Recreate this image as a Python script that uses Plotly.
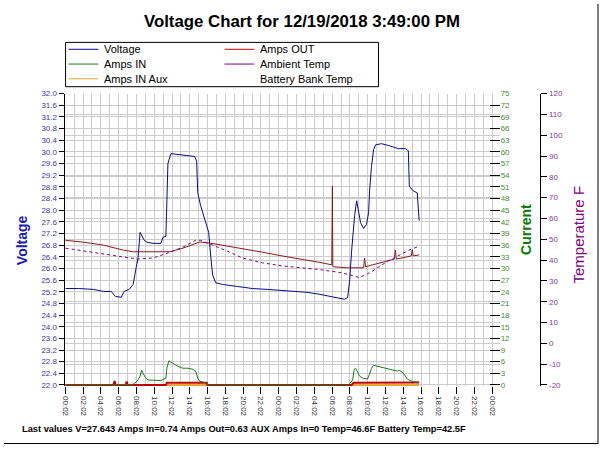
import plotly.graph_objects as go

W, H = 600, 449

# ---------------- data ----------------
x_tick_hours = [0, 2, 4, 6, 8, 10, 12, 14, 16, 18, 20, 22, 24, 26, 28, 30, 32, 34, 36, 38, 40, 42, 44, 46, 48]
x_tick_labels = ["00:02", "02:02", "04:02", "06:02", "08:02", "10:02", "12:02", "14:02", "16:02", "18:02",
                 "20:02", "22:02", "00:02", "02:02", "04:02", "06:02", "08:02", "10:02", "12:02", "14:02",
                 "16:02", "18:02", "20:02", "22:02", "00:02"]
x_minor_hours = [1, 3, 5, 7, 9, 11, 13, 15, 17, 19, 21, 23, 25, 27, 29, 31, 33, 35, 37, 39, 41, 43, 45, 47]

volt_t = [0.03, 1.49, 3.16, 4.28, 5.17, 5.62, 6.29, 6.62, 7.18, 7.63, 7.96, 8.18, 8.41, 8.63, 8.86, 9.19,
          9.86, 10.75, 10.98, 11.31, 11.42, 11.54, 11.87, 12.65, 13.77, 14.55, 14.77, 14.89, 15.22, 15.67,
          16.12, 16.34, 16.56, 16.90, 17.68, 19.36, 21.03, 22.71, 24.38, 26.06, 27.17, 28.62, 29.96, 30.86,
          31.42, 31.75, 31.98, 32.20, 32.53, 32.76, 32.98, 33.20, 33.54, 33.87, 34.10, 34.21, 34.43, 34.66,
          34.88, 35.55, 36.44, 37.45, 38.23, 38.57, 38.68, 39.12, 39.57, 39.79]
volt_v = [25.31, 25.31, 25.28, 25.21, 25.21, 25.04, 25.01, 25.21, 25.28, 25.45, 26.02, 26.36, 27.24, 27.10,
          26.97, 26.90, 26.86, 26.86, 27.07, 27.10, 28.32, 29.60, 29.94, 29.91, 29.87, 29.84, 29.67, 28.59,
          28.15, 27.71, 27.24, 26.46, 25.78, 25.51, 25.45, 25.38, 25.31, 25.28, 25.24, 25.21, 25.18, 25.11,
          25.04, 24.97, 24.94, 25.01, 25.61, 26.63, 27.81, 28.32, 27.91, 27.57, 27.37, 27.51, 27.91, 28.66,
          29.50, 30.07, 30.24, 30.28, 30.21, 30.11, 30.11, 30.04, 28.82, 28.66, 28.59, 27.643]

amps_in_t = [0.03, 6.73, 7.63, 7.96, 8.18, 8.41, 8.58, 8.74, 8.97, 9.30, 10.08, 10.75, 11.09, 11.31, 11.42,
             11.65, 12.09, 12.65, 13.21, 13.77, 14.33, 14.66, 14.89, 15.11, 15.45, 15.89, 16.23, 31.86, 32.09,
             32.31, 32.48, 32.64, 32.87, 33.09, 33.43, 33.98, 34.21, 34.43, 34.66, 35.10, 35.55, 36.22, 36.89,
             37.34, 37.56, 38.01, 38.46, 38.90, 39.35, 39.79]
amps_in_a = [0, 0, 0.13, 0.76, 1.27, 2.28, 3.80, 3.04, 2.03, 1.27, 1.14, 1.14, 1.52, 1.77, 4.31, 6.21, 5.57,
             4.81, 4.31, 4.31, 4.05, 3.55, 1.77, 1.01, 0.76, 0.25, 0, 0, 0.63, 1.27, 4.05, 4.31, 3.29, 2.28,
             1.77, 1.52, 2.79, 4.31, 5.07, 4.81, 4.69, 4.31, 3.80, 3.55, 3.80, 3.04, 1.52, 1.01, 0.76, 0.74]

amps_out_t = [0.03, 5.40, 5.55, 5.65, 6.80, 6.90, 7.00, 11.31, 11.42, 15.90, 16.00, 32.20, 32.40, 39.79]
amps_out_a = [0, 0, 1.0, 0, 0, 0.9, 0, 0, 0.6, 0.6, 0, 0, 0.55, 0.63]

aux_t = [0.03, 39.79]
aux_a = [0, 0]

ambient_t = [0.03, 2.04, 4.28, 6.51, 8.18, 9.86, 11.54, 13.21, 14.66, 15.22, 16.56, 18.24, 19.92, 22.15,
             24.38, 26.62, 28.85, 31.09, 32.20, 33.09, 34.43, 36.11, 37.78, 38.90, 39.79]
ambient_f = [45.7, 44.3, 42.9, 41.5, 40.5, 41.0, 43.4, 46.2, 49.5, 49.5, 47.2, 44.3, 41.0, 38.7, 37.2, 36.3,
             35.3, 33.9, 32.5, 31.6, 34.4, 39.1, 42.9, 45.3, 46.6]

battery_t = [0.03, 2.04, 4.28, 6.51, 7.63, 11.76, 13.21, 15.11, 16.34, 18.24, 19.92, 22.15, 24.38, 26.62,
             28.85, 29.96, 30.03, 30.08, 30.14, 31.64, 33.54, 33.65, 33.76, 34.99, 36.11, 37.00, 37.11, 37.22,
             38.34, 38.90, 39.01, 39.12, 39.79]
battery_f = [49.5, 48.6, 47.2, 44.8, 44.0, 44.0, 45.7, 48.7, 48.1, 46.7, 45.7, 43.8, 42.0, 40.5, 38.7, 37.7,
             75.5, 37.2, 36.8, 36.3, 36.3, 41.0, 36.8, 38.2, 39.6, 40.5, 44.8, 40.5, 41.5, 42.0, 45.0, 42.0,
             42.5]

volt_ticks = [round(22 + 0.4 * i, 1) for i in range(26)]
current_ticks = list(range(0, 76, 3))
temp_ticks = list(range(-20, 121, 10))

# ---------------- colours ----------------
C_VOLT = "#0a0a8c"
C_IN = "#1e7b1e"
C_AUX = "#e8a33c"
C_OUT = "#c00000"
C_AMB = "#800080"
C_BAT = "#8b1a1a"
GRID = "#cccccc"
FONT = "Liberation Sans, Arial, sans-serif"


def px(x):
    return x / W


def py(y):
    return 1 - y / H


x_left, x_right = 61, 499
y_top, y_bot = 91, 388.5

fig = go.Figure()

fig.add_trace(go.Scatter(x=aux_t, y=aux_a, yaxis="y2", mode="lines", line=dict(color=C_AUX, width=2),
                         name="Amps IN Aux", showlegend=False))
fig.add_trace(go.Scatter(x=amps_out_t, y=amps_out_a, yaxis="y2", mode="lines", line=dict(color=C_OUT, width=2),
                         name="Amps OUT", showlegend=False))
fig.add_trace(go.Scatter(x=amps_in_t, y=amps_in_a, yaxis="y2", mode="lines", line=dict(color=C_IN, width=1),
                         name="Amps IN", showlegend=False))
fig.add_trace(go.Scatter(x=battery_t, y=battery_f, yaxis="y3", mode="lines", line=dict(color=C_BAT, width=1),
                         name="Battery Bank Temp", showlegend=False))
fig.add_trace(go.Scatter(x=ambient_t, y=ambient_f, yaxis="y3", mode="lines",
                         line=dict(color=C_AMB, width=1, dash="dot"), name="Ambient Temp", showlegend=False))
fig.add_trace(go.Scatter(x=volt_t, y=volt_v, yaxis="y", mode="lines", line=dict(color=C_VOLT, width=1),
                         name="Voltage", showlegend=False))

x0 = -0.08
x1 = 48.84
fig.update_layout(
    width=W, height=H,
    margin=dict(l=0, r=0, t=0, b=0),
    paper_bgcolor="white", plot_bgcolor="white",
    font=dict(family=FONT, color="black"),
    showlegend=False,
    xaxis=dict(domain=[px(x_left), px(x_right)], range=[x0, x1], tickmode="array", tickvals=x_tick_hours,
               ticktext=x_tick_labels, tickangle=90, ticks="outside", ticklen=7, tickcolor="black",
               tickfont=dict(size=8, color="#333333"), showgrid=True, gridcolor=GRID, gridwidth=1,
               minor=dict(tickvals=x_minor_hours, showgrid=True, gridcolor=GRID, ticks=""),
               zeroline=False, showline=False),
    yaxis=dict(domain=[py(y_bot), py(y_top)], range=[22 - 1.5 / 29.6, 32], tickmode="array",
               tickvals=volt_ticks, ticktext=[f"{v:.1f}" for v in volt_ticks], ticks="outside", ticklen=5,
               tickcolor="black", tickfont=dict(size=8, color="#3a3aa8"), showgrid=True, gridcolor=GRID,
               zeroline=False, showline=True, linecolor="black", linewidth=1),
    yaxis2=dict(overlaying="y", side="right", anchor="free", position=px(x_right),
                range=[-1.5 * 75 / 296, 75], tickmode="array", tickvals=current_ticks,
                ticktext=[str(v) for v in current_ticks], ticks="inside", ticklen=10, tickcolor="black",
                tickfont=dict(size=8, color="#4a8a3a"), showgrid=False, zeroline=False, showline=False),
    yaxis3=dict(overlaying="y", side="right", anchor="free", position=px(540),
                range=[-20 - 1.5 * 140 / 296, 120], tickmode="array", tickvals=temp_ticks,
                ticktext=[str(v) for v in temp_ticks], ticks="outside", ticklen=6, tickcolor="black",
                tickfont=dict(size=8, color="#8040a0"), showgrid=True, gridcolor=GRID, zeroline=False,
                showline=True, linecolor="black", linewidth=1),
)

shapes = []
annotations = []

# title
annotations.append(dict(text="<b>Voltage Chart for 12/19/2018 3:49:00 PM</b>", x=px(300), y=py(18),
                        xref="paper", yref="paper", showarrow=False, xanchor="center", yanchor="middle",
                        font=dict(size=16.8, family=FONT, color="black")))

# legend box
shapes.append(dict(type="rect", xref="paper", yref="paper", x0=px(62), x1=px(377), y0=py(84), y1=py(39),
                   line=dict(color="black", width=1), fillcolor="white"))
legend_items = [
    ("Voltage", C_VOLT, 65, 46),
    ("Amps IN", C_IN, 65, 61),
    ("Amps IN Aux", C_AUX, 65, 76),
    ("Amps OUT", C_OUT, 222, 46),
    ("Ambient Temp", C_AMB, 222, 61),
    ("Battery Bank Temp", None, 222, 76),
]
for name, col, lx, ly in legend_items:
    if col is not None:
        shapes.append(dict(type="line", xref="paper", yref="paper", x0=px(lx), x1=px(lx + 30), y0=py(ly),
                           y1=py(ly), line=dict(color=col, width=1)))
    annotations.append(dict(text=name, x=px(lx + 34), y=py(ly), xref="paper", yref="paper", showarrow=False,
                            xanchor="left", yanchor="middle", font=dict(size=11, family=FONT, color="black")))

# axis titles
annotations.append(dict(text="<b>Voltage</b>", x=px(18), y=py(240), xref="paper", yref="paper",
                        showarrow=False, textangle=-90, xanchor="center", yanchor="middle",
                        font=dict(size=14, family=FONT, color="#1a1ab4")))
annotations.append(dict(text="<b>Current</b>", x=px(526), y=py(229), xref="paper", yref="paper",
                        showarrow=False, textangle=-90, xanchor="center", yanchor="middle",
                        font=dict(size=14, family=FONT, color="#0a7a0a")))
annotations.append(dict(text="Temperature F", x=px(578), y=py(234), xref="paper", yref="paper",
                        showarrow=False, textangle=-90, xanchor="center", yanchor="middle",
                        font=dict(size=15, family=FONT, color="#800080")))

# bottom text
annotations.append(dict(text="<b>Last values V=27.643 Amps In=0.74 Amps Out=0.63 AUX Amps In=0 "
                             "Temp=46.6F Battery Temp=42.5F</b>",
                        x=px(16), y=py(432), xref="paper", yref="paper", showarrow=False, xanchor="left",
                        yanchor="middle", font=dict(size=9.3, family=FONT, color="black")))

# outer frame (right / bottom)
shapes.append(dict(type="line", xref="paper", yref="paper", x0=px(598), x1=px(598), y0=py(447), y1=py(0),
                   line=dict(color="black", width=1)))
shapes.append(dict(type="line", xref="paper", yref="paper", x0=px(0), x1=px(598), y0=py(446.5), y1=py(446.5),
                   line=dict(color="black", width=1)))

fig.update_layout(shapes=shapes, annotations=annotations)
fig.write_html("out.html", config={"responsive": False, "displayModeBar": False},
               post_script="document.body.style.margin='0px';document.body.style.padding='0px';"
                           "document.body.style.overflow='hidden';")
